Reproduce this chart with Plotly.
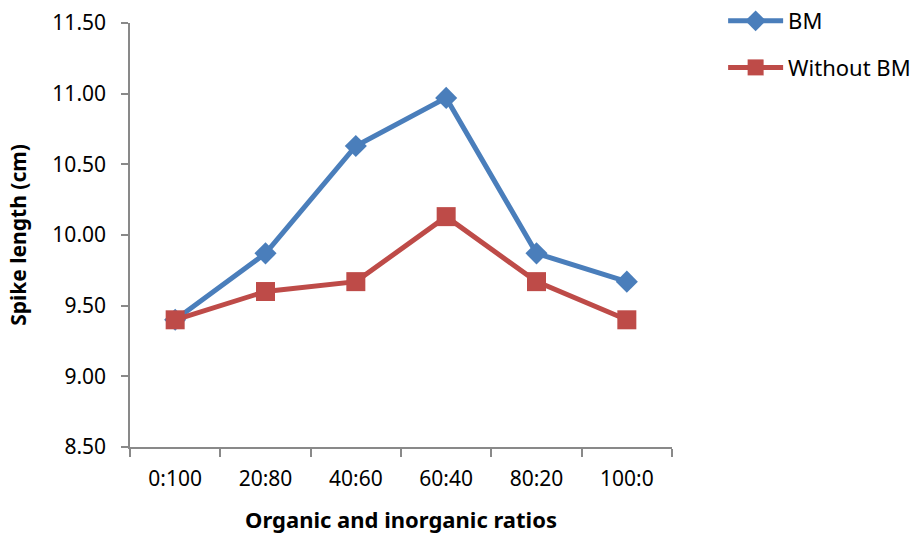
import plotly.graph_objects as go

categories = ["0:100", "20:80", "40:60", "60:40", "80:20", "100:0"]
bm = [9.40, 9.87, 10.63, 10.97, 9.87, 9.67]
without_bm = [9.40, 9.60, 9.67, 10.13, 9.67, 9.40]
y_ticks = [8.5, 9.0, 9.5, 10.0, 10.5, 11.0, 11.5]
y_labels = ["8.50", "9.00", "9.50", "10.00", "10.50", "11.00", "11.50"]

FONT = "Noto Sans"

fig = go.Figure()
fig.add_trace(go.Scatter(
    x=categories, y=bm, name="BM", mode="lines+markers", legendgroup="a",
    line=dict(color="#4A7EBB", width=5),
    marker=dict(symbol="diamond", size=17, color="#4A7EBB"),
))
fig.add_trace(go.Scatter(
    x=categories, y=without_bm, name="Without BM", mode="lines+markers", legendgroup="b",
    line=dict(color="#BE4B48", width=5),
    marker=dict(symbol="square", size=19, color="#BE4B48"),
))

fig.update_layout(
    width=920, height=536,
    margin=dict(l=130, r=248, t=23, b=89, autoexpand=False),
    paper_bgcolor="white", plot_bgcolor="white",
    font=dict(family=FONT, size=21, color="black"),
    showlegend=True,
    legend=dict(xref="container", yref="container", x=0.786, y=1.0,
                xanchor="left", yanchor="top",
                font=dict(family=FONT, size=22, color="black"),
                tracegroupgap=15, itemwidth=55, bgcolor="rgba(0,0,0,0)"),
    xaxis=dict(
        type="category", tickson="boundaries", range=[-0.5, 5.5],
        automargin=False,
        showline=True, linecolor="#898989", linewidth=1.5,
        ticks="outside", ticklen=8, tickcolor="#898989", tickwidth=1.5,
        ticklabelstandoff=12,
        showgrid=False, zeroline=False,
        tickfont=dict(family=FONT, size=21),
        title=dict(text="<b>Organic and inorganic ratios</b>",
                   font=dict(family=FONT, size=22), standoff=22),
    ),
    yaxis=dict(
        range=[8.5, 11.5], tickvals=y_ticks, ticktext=y_labels,
        automargin=False,
        showline=True, linecolor="#898989", linewidth=1.5,
        ticks="outside", ticklen=7, tickcolor="#898989", tickwidth=1.5,
        ticklabelstandoff=11,
        showgrid=False, zeroline=False,
        tickfont=dict(family=FONT, size=21),
        title=dict(text="<b>Spike length (cm)</b>",
                   font=dict(family=FONT, size=21), standoff=20),
    ),
)

fig.write_html("out.html", config={"displayModeBar": False},
               post_script="document.body.style.margin='0';")
